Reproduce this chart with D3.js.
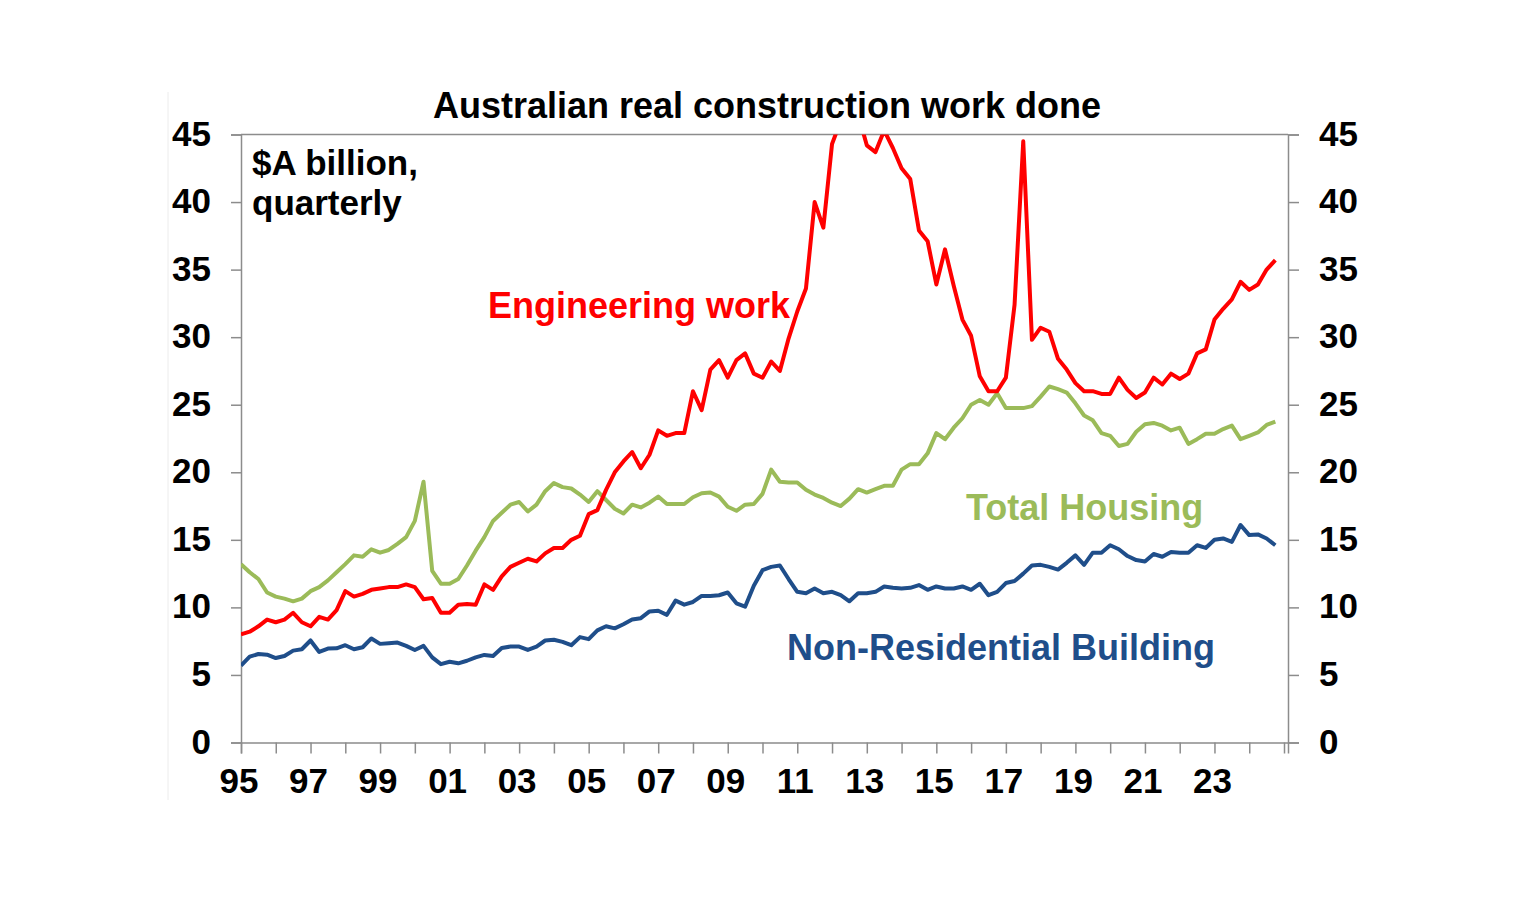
<!DOCTYPE html>
<html>
<head>
<meta charset="utf-8">
<script src="https://cdn.jsdelivr.net/npm/d3@7"></script>
<style>
    body { margin: 0; background: #fff; }
    #vis { display: block; }
    text { font-family: "Liberation Sans", Arial, sans-serif; font-weight: bold; }
</style>
</head>
<body>
<svg id="vis" width="1536" height="909"></svg>
<script>
/**
 * Call our functions on window load event
 */
window.onload = function(){
    setup();
};

// plot box in page pixels
const MARGINS = {top: 134.5, right: 248, bottom: 166.5, left: 241};

const START_YEAR = 1995;   // first quarter, Mar-95
const X_TICK_YEARS = d3.range(1995, 2026);
const X_LABEL_YEARS = d3.range(1995, 2024, 2);
const Y_TICKS = [0, 5, 10, 15, 20, 25, 30, 35, 40, 45];

// $A billion, quarterly
const ENGINEERING = [
    8.0, 8.2, 8.6, 9.1, 8.9, 9.1, 9.6, 8.9, 8.6, 9.3,
    9.1, 9.8, 11.2, 10.8, 11.0, 11.3, 11.4, 11.5, 11.5, 11.7,
    11.5, 10.6, 10.7, 9.6, 9.6, 10.2, 10.25, 10.2, 11.7, 11.3,
    12.3, 13.0, 13.3, 13.6, 13.4, 14.0, 14.4, 14.4, 15.0, 15.3,
    16.9, 17.2, 18.7, 20.0, 20.8, 21.5, 20.3, 21.3, 23.1, 22.7,
    22.9, 22.9, 26.0, 24.6, 27.6, 28.3, 27.0, 28.3, 28.8, 27.3,
    27.0, 28.2, 27.5, 29.9, 31.9, 33.6, 40.0, 38.1, 44.3, 46.0,
    47.0, 46.5, 44.2, 43.7, 45.3, 44.0, 42.5, 41.7, 37.9, 37.1,
    33.9, 36.5, 33.8, 31.3, 30.1, 27.1, 26.0, 26.0, 27.0, 32.4,
    44.5, 29.8, 30.7, 30.4, 28.4, 27.6, 26.6, 26.0, 26.0, 25.8,
    25.8, 27.0, 26.1, 25.5, 25.9, 27.0, 26.5, 27.3, 26.9, 27.3,
    28.8, 29.1, 31.3, 32.1, 32.8, 34.1, 33.5, 33.9, 35.0, 35.7
];

const HOUSING = [
    13.2, 12.6, 12.1, 11.1, 10.8, 10.65, 10.45, 10.65, 11.2, 11.5,
    12.0, 12.6, 13.2, 13.85, 13.75, 14.3, 14.05, 14.25, 14.7, 15.2,
    16.4, 19.3, 12.7, 11.75, 11.75, 12.1, 13.1, 14.2, 15.2, 16.4,
    17.0, 17.6, 17.8, 17.1, 17.6, 18.6, 19.2, 18.9, 18.8, 18.35,
    17.8, 18.6, 17.95, 17.3, 16.95, 17.6, 17.4, 17.75, 18.2, 17.65,
    17.65, 17.65, 18.15, 18.45, 18.5, 18.2, 17.45, 17.15, 17.6, 17.65,
    18.4, 20.2, 19.3, 19.25, 19.25, 18.7, 18.35, 18.1, 17.75, 17.5,
    18.05, 18.75, 18.5, 18.75, 19.0, 19.0, 20.2, 20.6, 20.6, 21.4,
    22.9, 22.45, 23.3, 24.0, 25.0, 25.35, 25.0, 25.85, 24.75, 24.75,
    24.75, 24.9, 25.6, 26.35, 26.15, 25.9, 25.1, 24.2, 23.85, 22.9,
    22.7, 21.95, 22.1, 23.0, 23.55, 23.65, 23.45, 23.1, 23.3, 22.1,
    22.45, 22.85, 22.85, 23.2, 23.45, 22.45, 22.7, 22.95, 23.5, 23.75
];

const NON_RESIDENTIAL = [
    5.7, 6.35, 6.55, 6.5, 6.25, 6.4, 6.8, 6.9, 7.55, 6.7,
    6.95, 6.97, 7.2, 6.9, 7.05, 7.7, 7.3, 7.35, 7.4, 7.15,
    6.85, 7.15, 6.3, 5.8, 5.98, 5.86, 6.05, 6.3, 6.48, 6.4,
    7.0, 7.1, 7.1, 6.85, 7.1, 7.55, 7.6, 7.45, 7.2, 7.8,
    7.65, 8.3, 8.6, 8.45, 8.75, 9.1, 9.2, 9.7, 9.75, 9.45,
    10.5, 10.2, 10.4, 10.85, 10.85, 10.9, 11.1, 10.3, 10.05, 11.6,
    12.75, 13.0, 13.1, 12.1, 11.15, 11.05, 11.4, 11.05, 11.15, 10.9,
    10.45, 11.05, 11.05, 11.15, 11.55, 11.45, 11.4, 11.45, 11.65, 11.3,
    11.55, 11.4, 11.4, 11.55, 11.3, 11.75, 10.9, 11.15, 11.8, 11.95,
    12.5, 13.1, 13.15, 13.0, 12.8, 13.3, 13.85, 13.15, 14.05, 14.05,
    14.6, 14.3, 13.8, 13.5, 13.4, 13.95, 13.75, 14.1, 14.05, 14.05,
    14.6, 14.4, 15.0, 15.1, 14.85, 16.1, 15.35, 15.4, 15.1, 14.6
];

const SERIES = [
    {name: "Engineering work", values: ENGINEERING, color: "#ff0000", lx: 488, ly: 318},
    {name: "Total Housing", values: HOUSING, color: "#9bbb59", lx: 966, ly: 520},
    {name: "Non-Residential Building", values: NON_RESIDENTIAL, color: "#1f4e8a", lx: 787, ly: 660}
];

var LineChart = function(){
    this.width = 1536;
    this.height = 909;
    this.svgContainer;
    this.xScale;
    this.yScale;

    this.setupScales = function(){
        this.xScale = d3.scaleLinear()
            .domain([1995, 2025.115])
            .range([MARGINS.left, this.width - MARGINS.right]);
        this.yScale = d3.scaleLinear()
            .domain([0, 45])
            .range([this.height - MARGINS.bottom, MARGINS.top]);
    };

    this.setupAxes = function(){
        var svg = this.svgContainer;
        var x0 = MARGINS.left, x1 = this.width - MARGINS.right;
        var y0 = this.height - MARGINS.bottom, y1 = MARGINS.top;

        // faint frame edge on the far left
        svg.append("line")
            .attr("x1", 168).attr("x2", 168).attr("y1", 92).attr("y2", 800)
            .attr("stroke", "#ececec").attr("stroke-width", 1);

        // top border of the plot
        svg.append("line")
            .attr("x1", x0).attr("x2", x1).attr("y1", y1).attr("y2", y1)
            .attr("stroke", "#8c8c8c").attr("stroke-width", 1.5);

        var yLeft = d3.axisLeft(this.yScale).tickValues(Y_TICKS).tickSize(10).tickPadding(20);
        var yRight = d3.axisRight(this.yScale).tickValues(Y_TICKS).tickSize(11).tickPadding(20);
        var xAxis = d3.axisBottom(this.xScale).tickValues(X_TICK_YEARS).tickSize(11)
            .tickFormat(function(){ return ""; });

        var gl = svg.append("g").attr("transform", `translate(${x0}, 0)`).call(yLeft);
        var gr = svg.append("g").attr("transform", `translate(${x1}, 0)`).call(yRight);
        var gx = svg.append("g").attr("transform", `translate(0, ${y0})`).call(xAxis);

        [gl, gr, gx].forEach(function(g){
            g.select(".domain").attr("stroke", "#8c8c8c").attr("stroke-width", 1.5);
            g.selectAll(".tick line").attr("stroke", "#8c8c8c").attr("stroke-width", 1.5);
            g.selectAll(".tick text")
                .attr("fill", "#000")
                .style("font-size", "35px")
                .style("font-family", '"Liberation Sans", Arial, sans-serif')
                .style("font-weight", "bold");
        });
        gl.selectAll(".tick text").attr("dy", "0.3em");
        gr.selectAll(".tick text").attr("dy", "0.3em");

        // two-digit year labels every second year
        var xs = this.xScale;
        svg.append("g").selectAll("text")
            .data(X_LABEL_YEARS)
            .enter()
            .append("text")
            .attr("x", function(d){ return xs(d) - 2; })
            .attr("y", 793)
            .attr("text-anchor", "middle")
            .style("font-size", "35px")
            .text(function(d){ return String(d % 100).padStart(2, "0"); });
    };

    this.createLines = function(){
        var svg = this.svgContainer;
        var xs = this.xScale, ys = this.yScale;

        svg.append("clipPath").attr("id", "plotClip")
            .append("rect")
            .attr("x", MARGINS.left).attr("y", MARGINS.top)
            .attr("width", this.width - MARGINS.left - MARGINS.right)
            .attr("height", this.height - MARGINS.top - MARGINS.bottom);

        var line = d3.line()
            .x(function(d, i){ return xs(START_YEAR + i / 4); })
            .y(function(d){ return ys(d); });

        var g = svg.append("g").attr("clip-path", "url(#plotClip)");
        // draw housing and non-res first so engineering sits on top
        [SERIES[2], SERIES[1], SERIES[0]].forEach(function(s){
            g.append("path")
                .datum(s.values)
                .attr("d", line)
                .attr("fill", "none")
                .attr("stroke", s.color)
                .attr("stroke-width", 4)
                .attr("stroke-linejoin", "round");
        });
    };

    this.setupLabels = function(){
        var svg = this.svgContainer;

        svg.append("text")
            .attr("x", 767).attr("y", 118)
            .attr("text-anchor", "middle")
            .style("font-size", "36px")
            .text("Australian real construction work done");

        svg.append("text")
            .attr("x", 252).attr("y", 175)
            .style("font-size", "35px")
            .text("$A billion,");
        svg.append("text")
            .attr("x", 252).attr("y", 215)
            .style("font-size", "35px")
            .text("quarterly");

        svg.append("g").selectAll("text")
            .data(SERIES)
            .enter()
            .append("text")
            .attr("x", function(d){ return d.lx; })
            .attr("y", function(d){ return d.ly; })
            .attr("fill", function(d){ return d.color; })
            .style("font-size", "36px")
            .text(function(d){ return d.name; });
    };
};

var _vis;

function setup(){
    _vis = new LineChart();
    _vis.svgContainer = d3.select("#vis");
    _vis.setupScales();
    _vis.setupAxes();
    _vis.createLines();
    _vis.setupLabels();
}
</script>
</body>
</html>
